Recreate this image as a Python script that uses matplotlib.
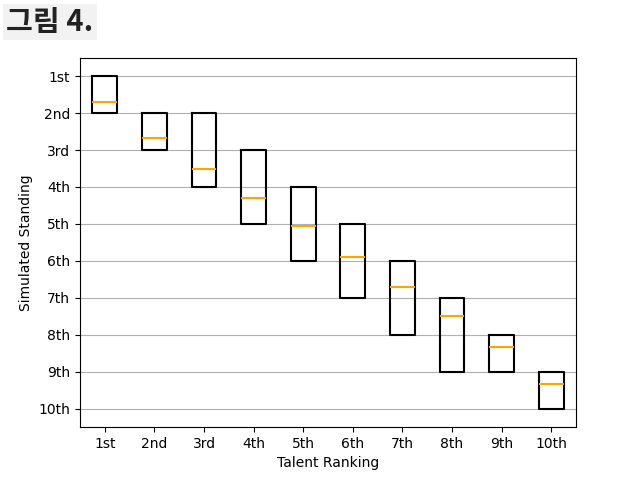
import matplotlib.pyplot as plt

ranks = ["1st", "2nd", "3rd", "4th", "5th", "6th", "7th", "8th", "9th", "10th"]
box_low = [1, 2, 2, 3, 4, 5, 6, 7, 8, 9]
box_high = [2, 3, 4, 5, 6, 7, 8, 9, 9, 10]
medians = [1.70, 2.68, 3.51, 4.30, 5.05, 5.89, 6.70, 7.49, 8.32, 9.32]


def main():
    fig, ax = plt.subplots(figsize=(6.4, 4.8), dpi=100)

    stats = []
    for i in range(len(ranks)):
        stats.append({
            "q1": box_low[i], "q3": box_high[i], "med": medians[i],
            "whislo": box_low[i], "whishi": box_high[i], "fliers": [],
        })

    ax.bxp(stats, positions=range(1, len(ranks) + 1), widths=0.5,
           showcaps=False, showfliers=False,
           boxprops=dict(color="black", linewidth=1.5),
           whiskerprops=dict(linewidth=0),
           medianprops=dict(color="orange", linewidth=1.5))

    ax.set_xticks(range(1, len(ranks) + 1))
    ax.set_xticklabels(ranks)
    ax.set_yticks(range(1, len(ranks) + 1))
    ax.set_yticklabels(ranks)
    ax.set_xlim(0.5, 10.5)
    ax.set_ylim(10.5, 0.5)
    ax.yaxis.grid(True, color="#b0b0b0")
    ax.set_axisbelow(True)
    ax.set_xlabel("Talent Ranking")
    ax.set_ylabel("Simulated Standing")

    fig.text(0.01, 0.955, "그림 4.", fontsize=21, fontweight="bold",
             family=["Noto Sans CJK KR", "DejaVu Sans"], color="#222222",
             va="center", ha="left",
             bbox=dict(facecolor="#f2f2f2", edgecolor="none", pad=2))

    fig.savefig("out.png")


main()
